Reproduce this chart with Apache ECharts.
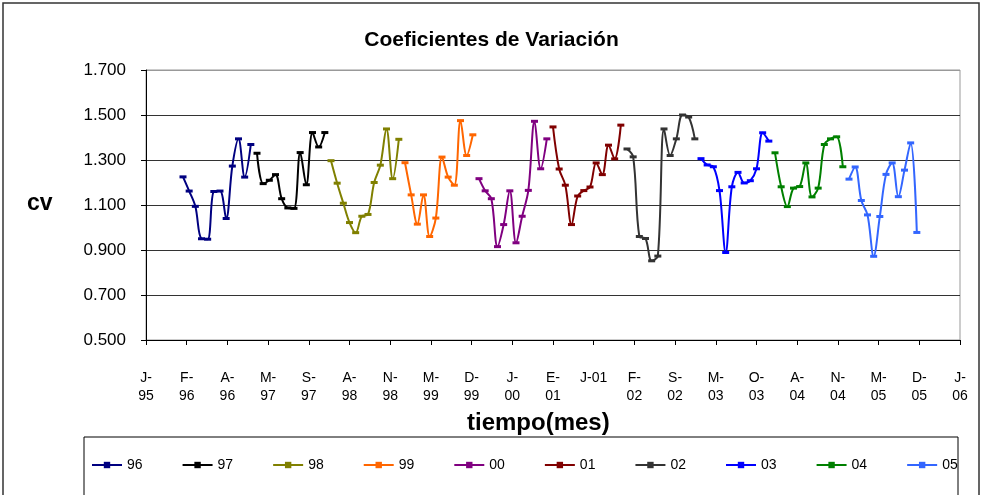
<!DOCTYPE html>
<html>
<head>
<meta charset="utf-8">
<script src="https://cdn.jsdelivr.net/npm/echarts@6/dist/echarts.min.js"></script>
<style>
  html, body { margin: 0; padding: 0; background: #fff; }
  #chart { width: 983px; height: 495px; }
</style>
</head>
<body>
<div id="chart"></div>
<script>
// eje x: meses desde jul-1995, etiqueta cada 6.6 meses
const tickLabels = ['J-\n95', 'F-\n96', 'A-\n96', 'M-\n97', 'S-\n97', 'A-\n98', 'N-\n98', 'M-\n99',
  'D-\n99', 'J-\n00', 'E-\n01', 'J-01\n ', 'F-\n02', 'S-\n02', 'M-\n03', 'O-\n03', 'A-\n04',
  'N-\n04', 'M-\n05', 'D-\n05', 'J-\n06'];
const tickStep = 6.6;

const years = ['96', '97', '98', '99', '00', '01', '02', '03', '04', '05'];
const colors = ['#000080', '#000000', '#808000', '#FF6600', '#800080', '#800000', '#333333', '#0000FF', '#008000', '#3366FF'];

// cv mensual (ene..dic) de cada año
const cv96 = [1.225, 1.162, 1.094, 0.950, 0.948, 1.160, 1.162, 1.040, 1.273, 1.394, 1.224, 1.369];
const cv97 = [1.330, 1.195, 1.210, 1.235, 1.128, 1.087, 1.085, 1.333, 1.190, 1.422, 1.358, 1.422];
const cv98 = [1.297, 1.197, 1.108, 1.022, 0.977, 1.050, 1.058, 1.200, 1.277, 1.438, 1.217, 1.392];
const cv99 = [1.288, 1.145, 1.015, 1.145, 0.960, 1.042, 1.313, 1.224, 1.188, 1.475, 1.320, 1.412];
const cv00 = [1.217, 1.163, 1.128, 0.915, 1.013, 1.163, 0.932, 1.050, 1.165, 1.472, 1.261, 1.394];
const cv01 = [1.447, 1.260, 1.188, 1.013, 1.140, 1.164, 1.180, 1.287, 1.235, 1.366, 1.305, 1.455];
const cv02 = [1.349, 1.314, 0.960, 0.951, 0.852, 0.873, 1.438, 1.320, 1.394, 1.500, 1.491, 1.394];
const cv03 = [1.306, 1.278, 1.270, 1.164, 0.889, 1.181, 1.245, 1.198, 1.208, 1.261, 1.421, 1.384];
const cv04 = [1.332, 1.181, 1.093, 1.175, 1.182, 1.287, 1.136, 1.175, 1.369, 1.394, 1.403, 1.270];
const cv05 = [1.215, 1.269, 1.120, 1.056, 0.872, 1.049, 1.236, 1.287, 1.137, 1.255, 1.376, 0.978];
const values = [cv96, cv97, cv98, cv99, cv00, cv01, cv02, cv03, cv04, cv05];

const font = '"Liberation Sans", Arial, sans-serif';

const series = years.map((y, i) => {
  const yearNum = 1900 + parseInt(y, 10) + (parseInt(y, 10) < 50 ? 100 : 0);
  return {
    name: y,
    type: 'line',
    smooth: 0.35,
    symbol: 'rect',
    symbolSize: [7, 3],
    color: colors[i],
    lineStyle: { width: 2, color: colors[i] },
    itemStyle: { color: colors[i] },
    data: values[i].map((v, m) => [(yearNum - 1995) * 12 + m - 6, v])
  };
});

const chart = echarts.init(document.getElementById('chart'), null, { renderer: 'canvas' });
chart.setOption({
  animation: false,
  backgroundColor: '#fff',
  textStyle: { fontFamily: font, color: '#000' },
  title: {
    text: 'Coeficientes de Variación',
    left: 'center',
    top: 25,
    textStyle: { fontFamily: font, fontSize: 21, fontWeight: 'bold', color: '#000' }
  },
  grid: { left: 146, right: 23, top: 70, bottom: 155, show: true, borderColor: '#999', borderWidth: 1 },
  legend: {
    left: 86,
    top: 453,
    width: 895,
    itemWidth: 30,
    itemHeight: 8,
    itemGap: 39,
    textStyle: { fontFamily: font, fontSize: 14, color: '#000' },
    data: years
  },
  xAxis: {
    type: 'value',
    min: 0,
    max: 132,
    interval: tickStep,
    splitLine: { show: false },
    axisLine: { lineStyle: { color: '#000', width: 1 } },
    axisTick: { show: true, length: 5, lineStyle: { color: '#000' } },
    axisLabel: {
      fontFamily: font,
      fontSize: 14,
      color: '#000',
      lineHeight: 18,
      margin: 29,
      verticalAlign: 'top',
      formatter: v => tickLabels[Math.round(v / tickStep)] || ''
    }
  },
  yAxis: {
    type: 'value',
    min: 0.5,
    max: 1.7,
    interval: 0.2,
    axisLine: { show: true, lineStyle: { color: '#000', width: 1 } },
    axisTick: { show: true, length: 5, lineStyle: { color: '#000' } },
    splitLine: { lineStyle: { color: ['#333', '#333', '#333', '#333', '#333', '#333', '#999'], width: 1 } },
    axisLabel: {
      fontFamily: font,
      fontSize: 17,
      color: '#000',
      margin: 20,
      formatter: v => v.toFixed(3)
    }
  },
  graphic: [
    { type: 'rect', shape: { x: 3, y: 3, width: 976, height: 510 }, style: { fill: 'none', stroke: '#333', lineWidth: 1.5 }, silent: true },
    { type: 'rect', shape: { x: 84, y: 437, width: 874, height: 80 }, style: { fill: 'none', stroke: '#000', lineWidth: 1 }, silent: true },
    { type: 'text', left: 27, top: 192, style: { text: 'cv', font: 'bold 23px ' + font, fill: '#000' } },
    { type: 'text', left: 467, top: 411, style: { text: 'tiempo(mes)', font: 'bold 24px ' + font, fill: '#000' } }
  ],
  series: series
});
</script>
</body>
</html>
